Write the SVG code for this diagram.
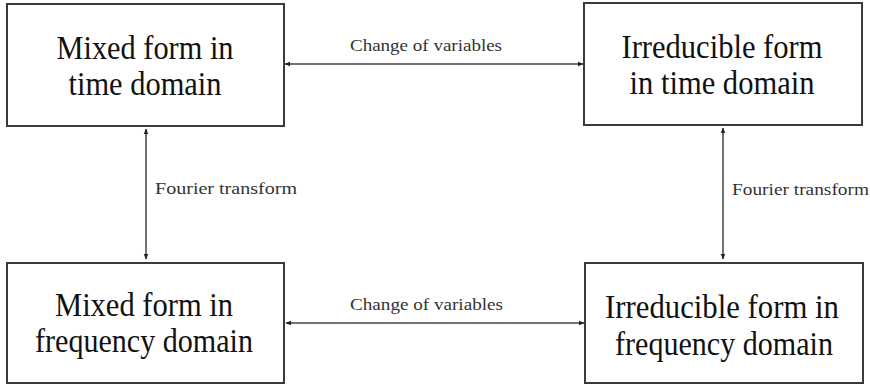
<svg xmlns="http://www.w3.org/2000/svg" width="870" height="385" viewBox="0 0 870 385">
<style>
.box{fill:#fff;stroke:#3a3a3a;stroke-width:2}
.big{font-family:"Liberation Serif","Times New Roman",serif;font-size:34px;fill:#111;text-anchor:middle}
.lbl{font-family:"Liberation Serif","Times New Roman",serif;font-size:16.5px;fill:#333}
.conn{stroke:#444;stroke-width:1.5;fill:none;marker-start:url(#a);marker-end:url(#a)}
</style>
<defs>
<marker id="a" viewBox="0 0 10 10" refX="9" refY="5" markerWidth="6" markerHeight="6" orient="auto-start-reverse" markerUnits="userSpaceOnUse">
<path d="M0,1 L10,5 L0,9 Z" fill="#222"/>
</marker>
</defs>
<rect width="870" height="385" fill="#fff"/>
<g id="connectors">
<line class="conn" x1="285" y1="64" x2="583" y2="64"/>
<line class="conn" x1="286" y1="323" x2="584" y2="323"/>
<line class="conn" x1="146" y1="129" x2="146" y2="259"/>
<line class="conn" x1="723" y1="128" x2="723" y2="259"/>
<text class="lbl" x="350" y="51" textLength="152" lengthAdjust="spacingAndGlyphs">Change of variables</text>
<text class="lbl" x="350" y="310" textLength="153" lengthAdjust="spacingAndGlyphs">Change of variables</text>
<text class="lbl" x="155" y="194" textLength="142" lengthAdjust="spacingAndGlyphs">Fourier transform</text>
<text class="lbl" x="732" y="195" textLength="137" lengthAdjust="spacingAndGlyphs">Fourier transform</text>
</g>
<g id="mixed-time">
<rect class="box" x="7" y="4" width="277" height="122"/>
<text class="big" x="145" y="59" textLength="177" lengthAdjust="spacingAndGlyphs">Mixed form in</text>
<text class="big" x="145" y="95" textLength="153" lengthAdjust="spacingAndGlyphs">time domain</text>
</g>
<g id="irreducible-time">
<rect class="box" x="584" y="3" width="278" height="122"/>
<text class="big" x="722" y="58" textLength="201" lengthAdjust="spacingAndGlyphs">Irreducible form</text>
<text class="big" x="722" y="94" textLength="185" lengthAdjust="spacingAndGlyphs">in time domain</text>
</g>
<g id="mixed-frequency">
<rect class="box" x="7" y="263" width="277" height="120"/>
<text class="big" x="144" y="316" textLength="178" lengthAdjust="spacingAndGlyphs">Mixed form in</text>
<text class="big" x="144" y="352" textLength="218" lengthAdjust="spacingAndGlyphs">frequency domain</text>
</g>
<g id="irreducible-frequency">
<rect class="box" x="585" y="263" width="278" height="120"/>
<text class="big" x="722" y="318" textLength="234" lengthAdjust="spacingAndGlyphs">Irreducible form in</text>
<text class="big" x="724" y="355" textLength="218" lengthAdjust="spacingAndGlyphs">frequency domain</text>
</g>
</svg>
